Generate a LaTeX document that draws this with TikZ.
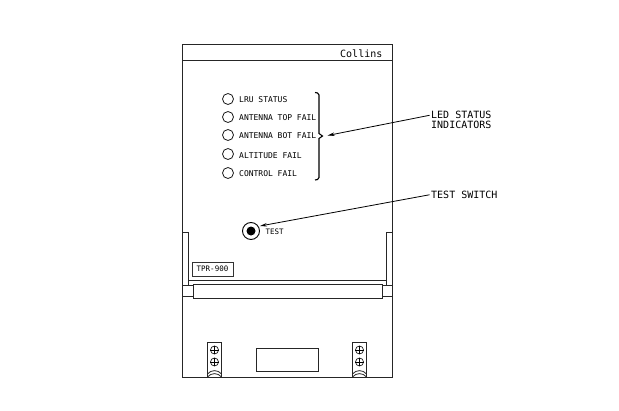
\documentclass[tikz,border=0pt]{standalone}
\usepackage{fontspec}
\setmonofont{DejaVu Sans Mono}
\usepackage{tikz}
\usetikzlibrary{arrows.meta}

\tikzset{
    panel/.style={draw=black!85,line width=1pt},
    thinpart/.style={draw=black!85,line width=0.8pt},
    ledlamp/.style={draw=black!90,circle,line width=0.8pt,minimum size=11pt,inner sep=0pt},
    smalltext/.style={anchor=west,inner sep=0pt,text=black,font=\ttfamily\fontsize{8}{8}\selectfont},
    bigtext/.style={anchor=west,inner sep=0pt,text=black,font=\ttfamily\fontsize{10}{10}\selectfont},
    screwhead/.style={draw=black!90,circle,line width=0.7pt,minimum size=8pt,inner sep=0pt},
    leader/.style={draw=black,line width=0.8pt,shorten <=1.5pt,-{Stealth[length=7pt,width=3.5pt]}}
}

\begin{document}
\begin{tikzpicture}[x=1pt,y=-1pt]
    \useasboundingbox (0,0) rectangle (619,410);

    % housing
    \draw[panel] (182,44) rectangle (392,377);
    \draw[panel] (182,60.5) -- (392,60.5);
    \node[bigtext] (maker) at (340,53.5) {Collins};

    % leds and their labels
    \node[ledlamp] (led1) at (228,99) {}; \node[smalltext] (lab1) at (239,99.5) {LRU STATUS};
    \node[ledlamp] (led2) at (228,117) {}; \node[smalltext] (lab2) at (239,118) {ANTENNA TOP FAIL};
    \node[ledlamp] (led3) at (228,135) {}; \node[smalltext] (lab3) at (239,136) {ANTENNA BOT FAIL};
    \node[ledlamp] (led4) at (228,154) {}; \node[smalltext] (lab4) at (239,155.5) {ALTITUDE FAIL};
    \node[ledlamp] (led5) at (228,173) {}; \node[smalltext] (lab5) at (239,173.5) {CONTROL FAIL};

    \coordinate (bracetip) at (327.5,135.5);
    \draw[line width=1.1pt] (315,92.5) -- (317.5,93) -- (319,95) -- (319,133.5) -- (322.5,136) -- (319,138.5) -- (319,177.5) -- (317.5,179.5) -- (315,180);

    % callouts
    \node[bigtext] (ledtext) at (431,115) {LED STATUS};
    \node[bigtext] (ledtext2) at (431,125) {INDICATORS};
    \node[bigtext] (swtext) at (431,194.5) {TEST SWITCH};
    \draw[leader] (ledtext.west) -- (bracetip);

    % switch
    \node[circle,draw=black,line width=0.9pt,minimum size=17pt,inner sep=0pt] (switch) at (251,231) {};
    \node[circle,fill=black,minimum size=9pt,inner sep=0pt] (switchcap) at (251,231) {};
    \coordinate (swtip) at (260,226);
    \node[smalltext,font=\ttfamily\fontsize{7.5}{7.5}\selectfont] (swlab) at (265.5,231.5) {TEST};
    \draw[leader] (swtext.west) -- (swtip);

    % side rails, bar and handle
    \draw[thinpart] (182,232) -- (188,232) -- (188,285); \draw[thinpart] (392,232) -- (386,232) -- (386,285);
    \draw[panel] (188,280.5) -- (386,280.5);
    \draw[thinpart] (182,285) -- (193,285); \draw[thinpart] (382,285) -- (392,285);
    \draw[thinpart] (182,296) -- (193,296); \draw[thinpart] (382,296) -- (392,296);
    \draw[panel,fill=white] (193,284) rectangle (382,298);
    \node[draw=black!80,line width=0.7pt,minimum width=41pt,minimum height=14pt,inner sep=0pt,text=black,font=\ttfamily\fontsize{7.5}{7.5}\selectfont] (model) at (212.5,269) {TPR-900};

    % bottom window
    \draw[thinpart] (256.5,348.5) rectangle (318,371);

    % left bracket
    \draw[thinpart] (207.5,377) -- (207.5,342) -- (221.5,342) -- (221.5,377);
    \node[screwhead] (scr1) at (214.5,350) {}; \draw[line width=0.6pt] (scr1.north) -- (scr1.south); \draw[line width=0.6pt] (scr1.west) -- (scr1.east);
    \node[screwhead] (scr2) at (214.5,362) {}; \draw[line width=0.6pt] (scr2.north) -- (scr2.south); \draw[line width=0.6pt] (scr2.west) -- (scr2.east);
    \draw[thinpart] (207.5,374) .. controls (211,369.5) and (218,369.5) .. (221.5,374);
    \draw[thinpart] (207.5,377) .. controls (211,372.5) and (218,372.5) .. (221.5,377);

    % right bracket
    \draw[thinpart] (352.5,377) -- (352.5,342) -- (366.5,342) -- (366.5,377);
    \node[screwhead] (scr3) at (359.5,350) {}; \draw[line width=0.6pt] (scr3.north) -- (scr3.south); \draw[line width=0.6pt] (scr3.west) -- (scr3.east);
    \node[screwhead] (scr4) at (359.5,362) {}; \draw[line width=0.6pt] (scr4.north) -- (scr4.south); \draw[line width=0.6pt] (scr4.west) -- (scr4.east);
    \draw[thinpart] (352.5,374) .. controls (356,369.5) and (363,369.5) .. (366.5,374);
    \draw[thinpart] (352.5,377) .. controls (356,372.5) and (363,372.5) .. (366.5,377);
\end{tikzpicture}
\end{document}
